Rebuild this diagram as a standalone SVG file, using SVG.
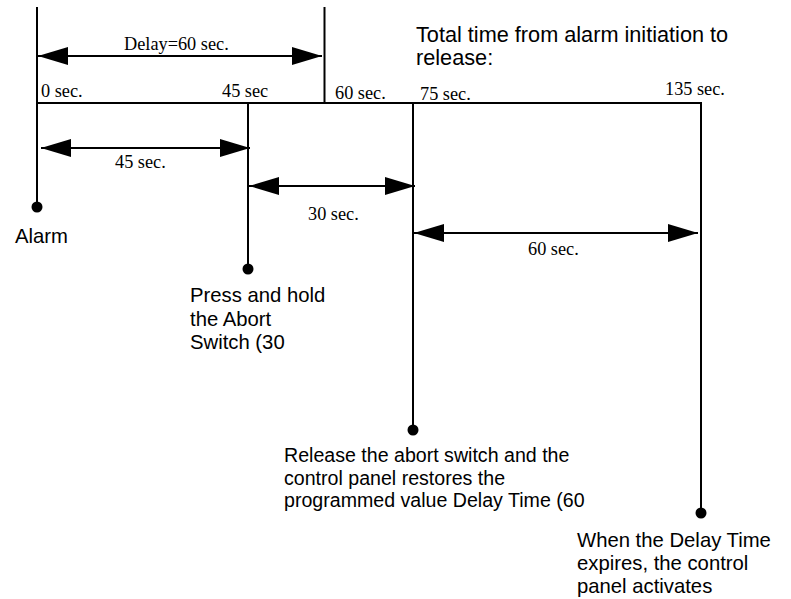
<svg xmlns="http://www.w3.org/2000/svg" width="791" height="599" viewBox="0 0 791 599">
<style>
.ln{stroke:#000;stroke-width:2;fill:none}
.ar{stroke:#000;stroke-width:2;fill:none;marker-start:url(#ah);marker-end:url(#ah)}
.sf{font-family:"Liberation Serif","Times New Roman",serif;font-size:18.3px;fill:#000}
.ss{font-family:"Liberation Sans",Arial,sans-serif;font-size:20.3px;fill:#000}
.big{font-size:21.7px}
.sm{font-size:19.6px}
.dot{fill:#000}
</style>
<defs>
<marker id="ah" markerUnits="userSpaceOnUse" markerWidth="30" markerHeight="18" viewBox="0 0 30 18" refX="30" refY="9" orient="auto-start-reverse">
<path d="M0,0 L30,9 L0,18 Z" fill="#000"/>
</marker>
</defs>
<rect width="791" height="599" fill="#fff"/>
<g id="connectors">
<line class="ln" x1="37" y1="7" x2="37" y2="207"/>
<line class="ln" x1="324.5" y1="7" x2="324.5" y2="103"/>
<line class="ln" x1="36" y1="103" x2="702" y2="103"/>
<line class="ln" x1="248" y1="103" x2="248" y2="269"/>
<line class="ln" x1="413" y1="103" x2="413" y2="430"/>
<line class="ln" x1="701" y1="102" x2="701" y2="513"/>
<line class="ar" x1="38" y1="56" x2="322" y2="56"/>
<line class="ar" x1="41" y1="148" x2="250" y2="148"/>
<line class="ar" x1="249" y1="186" x2="415" y2="186"/>
<line class="ar" x1="414" y1="233" x2="698" y2="233"/>
</g>
<g id="scale-labels">
<text class="sf" x="124" y="50">Delay=60 sec.</text>
<text class="sf" x="41" y="97">0 sec.</text>
<text class="sf" x="222" y="97">45 sec</text>
<text class="sf" x="335" y="99">60 sec.</text>
<text class="sf" x="420" y="100">75 sec.</text>
<text class="sf" x="665" y="95">135 sec.</text>
<text class="sf" x="115" y="168">45 sec.</text>
<text class="sf" x="308" y="220">30 sec.</text>
<text class="sf" x="528" y="255">60 sec.</text>
</g>
<g id="total">
<text class="ss big" x="416" y="42">Total time from alarm initiation to</text>
<text class="ss big" x="416" y="65">release:</text>
</g>
<g id="alarm">
<circle class="dot" cx="37" cy="207" r="5.5"/>
<text class="ss" x="15" y="243">Alarm</text>
</g>
<g id="press">
<circle class="dot" cx="248" cy="269" r="5.5"/>
<text class="ss" x="190" y="302">Press and hold</text>
<text class="ss" x="190" y="326">the Abort</text>
<text class="ss" x="190" y="349">Switch (30</text>
</g>
<g id="release">
<circle class="dot" cx="413" cy="430" r="5.5"/>
<text class="ss sm" x="284" y="462">Release the abort switch and the</text>
<text class="ss sm" x="284" y="485">control panel restores the</text>
<text class="ss sm" x="284" y="507">programmed value Delay Time (60</text>
</g>
<g id="expire">
<circle class="dot" cx="701" cy="513" r="5.5"/>
<text class="ss" x="577" y="547">When the Delay Time</text>
<text class="ss" x="577" y="570">expires, the control</text>
<text class="ss" x="577" y="593">panel activates</text>
</g>
</svg>
